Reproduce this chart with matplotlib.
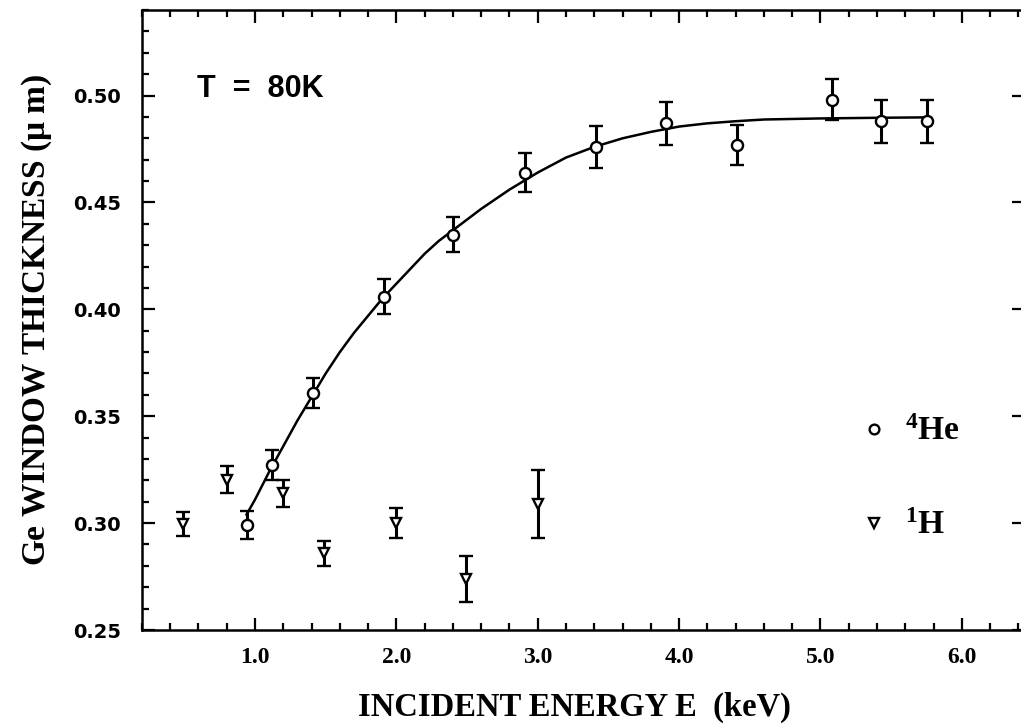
import numpy as np
import matplotlib
matplotlib.use("Agg")
import matplotlib.pyplot as plt
from matplotlib.ticker import MultipleLocator

plt.rcParams['mathtext.fontset'] = 'custom'
plt.rcParams['mathtext.bf'] = 'Liberation Serif:bold'
plt.rcParams['mathtext.rm'] = 'Liberation Serif:bold'
plt.rcParams['mathtext.default'] = 'bf'

# 4He data
he_E = [0.94, 1.12, 1.41, 1.91, 2.40, 2.91, 3.41, 3.91, 4.41, 5.08, 5.43, 5.75]
he_t = [0.299, 0.327, 0.361, 0.406, 0.435, 0.464, 0.476, 0.487, 0.477, 0.498, 0.488, 0.488]
he_err = [0.0065, 0.007, 0.007, 0.008, 0.008, 0.009, 0.0097, 0.010, 0.0093, 0.0096, 0.010, 0.010]

# 1H data
h_E = [0.49, 0.80, 1.20, 1.49, 2.00, 2.49, 3.00]
h_t = [0.2995, 0.3204, 0.3139, 0.2858, 0.2999, 0.2737, 0.3089]
h_err = [0.0057, 0.0063, 0.0063, 0.0058, 0.007, 0.0107, 0.016]

# fitted curve through the He points
fit_E = [0.94, 1.0, 1.1, 1.2, 1.3, 1.4, 1.5, 1.6, 1.7, 1.8, 1.9, 2.0, 2.1, 2.2,
         2.3, 2.4, 2.6, 2.8, 3.0, 3.2, 3.4, 3.6, 3.8, 4.0, 4.2, 4.4, 4.6, 5.0,
         5.4, 5.75]
fit_t = [0.304, 0.311, 0.324, 0.336, 0.348, 0.359, 0.370, 0.380, 0.389, 0.397,
         0.405, 0.412, 0.419, 0.426, 0.432, 0.437, 0.447, 0.456, 0.464, 0.471,
         0.476, 0.480, 0.483, 0.4855, 0.487, 0.488, 0.4888, 0.4893, 0.4896, 0.4898]

fig = plt.figure(figsize=(10.21, 7.28), dpi=100)
ax = fig.add_axes([0.139, 0.1346, 0.864, 0.8516])

ax.plot(fit_E, fit_t, color='black', lw=1.8, zorder=2)

ax.errorbar(he_E, he_t, yerr=he_err, fmt='o', color='black', mfc='white', mec='black',
            ms=8, mew=1.7, elinewidth=2.2, capsize=5, capthick=2.2, zorder=3)
ax.errorbar(h_E, h_t, yerr=h_err, fmt='v', color='black', mfc='white', mec='black',
            ms=7.5, mew=1.7, elinewidth=2.2, capsize=5, capthick=2.2, zorder=3)

# legend
ax.plot([5.376], [0.344], 'o', mfc='white', mec='black', ms=7, mew=1.7)
ax.plot([5.376], [0.3], 'v', mfc='white', mec='black', ms=7, mew=1.7)
ax.text(5.6, 0.343, r'$^{4}$He', fontsize=24, fontweight='bold', family='Liberation Serif',
        va='center', ha='left')
ax.text(5.6, 0.299, r'$^{1}$H', fontsize=24, fontweight='bold', family='Liberation Serif',
        va='center', ha='left')

ax.text(0.59, 0.503, 'T  =  80K', fontsize=22, fontweight='bold', family='Liberation Sans',
        va='center', ha='left')

ax.set_xlim(0.2, 6.44)
ax.set_ylim(0.25, 0.54)
ax.xaxis.set_major_locator(MultipleLocator(1.0))
ax.xaxis.set_minor_locator(MultipleLocator(0.2))
ax.yaxis.set_major_locator(MultipleLocator(0.05))
ax.yaxis.set_minor_locator(MultipleLocator(0.01))
ax.set_xticks([1, 2, 3, 4, 5, 6])
ax.set_xticklabels(['1.0', '2.0', '3.0', '4.0', '5.0', '6.0'],
                   fontsize=17, fontweight='bold', family='Liberation Serif')
ax.set_yticks([0.25, 0.30, 0.35, 0.40, 0.45, 0.50])
ax.set_yticklabels(['0.25', '0.30', '0.35', '0.40', '0.45', '0.50'],
                   fontsize=14, fontweight='bold', family='DejaVu Sans')

ax.tick_params(which='both', direction='in', top=True, right=True, width=1.6)
ax.tick_params(which='major', length=9)
ax.tick_params(axis='y', which='major', pad=15)
ax.tick_params(axis='x', which='major', pad=12)
ax.tick_params(which='minor', length=5)
ax.tick_params(axis='y', which='minor', right=False)

for s in ax.spines.values():
    s.set_linewidth(1.8)

ax.set_xlabel('INCIDENT ENERGY E  (keV)', fontsize=23.5, fontweight='bold',
              family='Liberation Serif')
ax.xaxis.set_label_coords(0.49, -0.1)
ax.set_ylabel(r'Ge WINDOW THICKNESS ($\mu$ m)', fontsize=24, fontweight='bold',
              family='Liberation Serif', labelpad=14)

fig.savefig('out.png', dpi=100)
